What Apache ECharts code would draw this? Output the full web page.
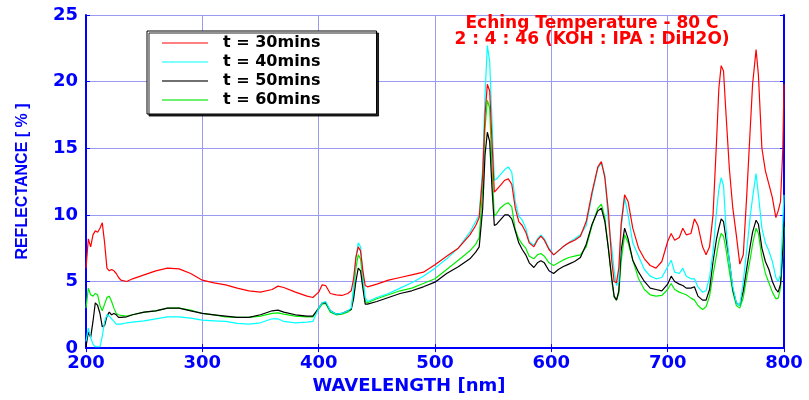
<!DOCTYPE html>
<html>
<head>
<meta charset="utf-8">
<script src="https://cdn.jsdelivr.net/npm/echarts@6/dist/echarts.min.js"></script>
<style>html,body{margin:0;padding:0;background:#fff}#c{width:809px;height:400px}</style>
</head>
<body>
<div id="c"></div>
<script>
// Wavelength grid (nm)
var wavelengths = [
  200,202,204,206,208,210,212,214,216,218,220,222,224,226,228,230,235,240,250,260,270,280,290,300,310,320,330,
  340,350,360,365,370,380,390,395,400,403,406,410,415,420,425,428,430,432,434,436,438,440,442,450,460,470,480,490,
  500,510,520,530,535,538,541,543,545,547,549,551,553,556,560,563,566,569,572,575,578,581,585,588,591,594,598,602,606,610,615,620,
  625,630,635,640,643,646,649,652,654,656,658,660,663,666,670,675,680,685,690,695,
  700,703,706,710,713,716,720,723,726,730,733,736,739,742,744,746,748,750,753,756,759,762,765,768,771,773,776,778,781,784,787,790,793,795,797,799,800
];
var seriesNames = ['t = 30mins', 't = 40mins', 't = 50mins', 't = 60mins'];
var t30 = [
  6.0,8.2,7.6,8.5,8.8,8.7,9.0,9.4,7.9,6.0,5.8,5.9,5.8,5.6,5.3,5.1,5.0,5.2,5.5,5.8,6.0,5.95,5.6,5.1,4.9,4.75,4.5,
  4.3,4.2,4.4,4.65,4.55,4.2,3.9,3.8,4.2,4.75,4.7,4.1,4.0,3.95,4.1,4.3,5.2,6.8,7.6,7.3,5.8,4.7,4.6,4.8,5.1,5.3,5.5,5.7,
  6.25,6.9,7.5,8.5,9.2,9.8,13.0,17.5,19.8,19.3,15.5,11.7,11.9,12.2,12.6,12.7,12.3,10.5,9.5,9.2,8.7,7.9,7.6,8.1,8.4,8.1,7.4,7.0,7.3,7.6,7.9,8.1,
  8.4,9.5,11.7,13.6,14.0,12.8,10.3,6.5,5.0,4.9,6.0,9.3,11.5,11.0,9.0,7.5,6.7,6.2,6.0,6.5,
  8.0,8.6,8.1,8.3,9.0,8.5,8.6,9.7,9.2,7.6,7.0,7.6,10.0,15.5,19.5,21.2,20.8,17.8,13.5,10.5,8.5,6.3,7.0,11.5,16.5,19.8,22.4,20.5,15.0,13.3,12.3,11.3,9.8,10.3,11.0,15.0,19.8
];
var t40 = [
  0.5,1.5,0.8,0.3,0.1,0.1,0.1,0.9,2.0,2.5,2.4,2.2,2.0,1.8,1.8,1.8,1.9,1.95,2.05,2.2,2.35,2.35,2.25,2.1,2.05,2.0,1.85,
  1.8,1.9,2.2,2.2,2.0,1.9,1.95,2.0,3.0,3.4,3.5,2.8,2.55,2.6,2.8,3.0,4.5,6.8,7.9,7.6,5.5,3.8,3.5,3.8,4.1,4.5,4.9,5.4,
  6.0,6.7,7.5,8.7,9.5,10.0,13.5,19.0,22.7,21.5,17.0,12.6,12.7,13.0,13.4,13.6,13.2,11.0,9.9,9.6,9.0,8.0,7.7,8.2,8.5,8.2,7.5,7.0,7.3,7.6,7.9,8.2,
  8.5,9.2,11.5,13.5,13.9,13.0,9.5,7.5,5.8,4.7,5.0,9.0,11.3,10.0,7.9,6.9,5.9,5.4,5.2,5.3,
  6.1,6.6,5.7,5.6,6.0,5.4,5.2,5.2,4.6,4.2,4.3,5.3,7.2,10.3,11.9,12.8,12.2,9.2,6.5,4.6,3.4,3.2,5.0,7.4,9.9,11.3,13.1,11.5,9.0,7.9,7.3,6.5,5.3,5.0,5.5,9.5,11.5
];
var t50 = [
  0.1,1.2,0.8,2.0,3.4,3.2,2.6,1.6,1.7,2.4,2.7,2.5,2.6,2.5,2.3,2.3,2.35,2.5,2.7,2.8,3.0,3.0,2.8,2.6,2.5,2.4,2.3,
  2.3,2.5,2.8,2.85,2.7,2.5,2.4,2.4,3.0,3.4,3.4,2.8,2.55,2.6,2.8,2.9,3.7,5.0,6.0,5.8,4.5,3.3,3.3,3.5,3.8,4.1,4.3,4.6,
  4.95,5.6,6.1,6.7,7.2,7.6,10.5,14.5,16.2,15.5,12.0,9.2,9.3,9.6,10.0,10.0,9.7,8.8,7.9,7.4,7.0,6.4,6.05,6.4,6.55,6.4,5.8,5.6,5.9,6.1,6.3,6.5,
  6.8,7.8,9.3,10.3,10.5,9.5,7.5,5.2,3.9,3.6,4.3,7.3,9.0,8.2,6.6,5.7,5.0,4.5,4.4,4.3,
  4.8,5.4,5.0,4.8,4.7,4.5,4.5,4.6,3.9,3.6,3.6,4.4,6.5,8.2,9.0,9.7,9.5,8.3,6.6,4.4,3.4,3.2,4.3,6.0,7.7,8.7,9.6,9.3,7.5,6.5,5.9,5.0,4.4,4.2,4.8,7.5,9.5
];
var t60 = [
  3.0,4.5,4.0,3.9,4.1,4.0,3.2,2.8,3.3,3.8,3.9,3.5,3.0,2.6,2.5,2.45,2.4,2.5,2.7,2.8,3.0,3.0,2.85,2.6,2.5,2.35,2.3,
  2.3,2.4,2.6,2.65,2.55,2.4,2.35,2.35,2.95,3.3,3.35,2.7,2.5,2.55,2.7,2.9,4.2,6.0,7.0,6.7,5.0,3.5,3.4,3.7,4.0,4.3,4.5,4.85,
  5.2,5.9,6.6,7.3,7.8,8.3,12.0,16.5,18.6,18.0,13.5,9.9,10.1,10.5,10.8,10.9,10.6,8.9,8.2,7.8,7.5,6.9,6.7,7.0,7.1,6.9,6.4,6.2,6.4,6.6,6.8,6.9,
  7.0,7.6,9.2,10.5,10.8,9.8,7.5,5.0,3.8,3.6,4.1,6.5,8.5,7.9,6.6,5.2,4.4,4.0,3.9,3.95,
  4.4,4.85,4.4,4.2,4.1,4.0,3.75,3.6,3.2,2.9,3.1,3.9,5.5,7.0,8.0,8.6,8.4,7.5,5.8,4.2,3.2,3.0,3.8,5.3,6.7,7.8,9.0,8.6,6.8,5.6,4.9,4.2,3.7,3.75,4.5,7.0,9.1
];
var seriesValues = [t30, t40, t50, t60];
var seriesColors = ['#ff0000', '#00ffff', '#000000', '#00ee00'];
var legendColors = ['#ff8080', '#80ffff', '#707070', '#70f070'];
var annotation = 'Eching Temperature - 80 C\n2 : 4 : 46 (KOH : IPA : DiH2O)';

function pairs(vals) { return wavelengths.map(function (w, i) { return [w, vals[i]]; }); }

var blue = '#0000ff';
var gridColor = '#9a9af2';
var tickFont = { color: blue, fontWeight: 'bold', fontSize: 18, fontFamily: 'DejaVu Sans' };

var chart = echarts.init(document.getElementById('c'), null, { renderer: 'canvas' });
chart.setOption({
  animation: false,
  backgroundColor: '#fff',
  grid: { left: 86, right: 25, top: 15, bottom: 42, show: false },
  xAxis: [{
    type: 'value', min: 200, max: 800, interval: 100,
    name: 'WAVELENGTH [nm]', nameLocation: 'middle', nameGap: 25,
    nameTextStyle: { color: blue, fontWeight: 'bold', fontSize: 18, fontFamily: 'DejaVu Sans', padding: [0, 52, 0, 0] },
    axisLine: { show: true, lineStyle: { color: blue, width: 2 } },
    axisTick: { show: true, inside: true, length: 4, lineStyle: { color: blue } },
    axisLabel: Object.assign({ margin: 6 }, tickFont),
    splitLine: { show: true, lineStyle: { color: gridColor, width: 1 } }
  }, {
    type: 'value', position: 'top', min: 200, max: 800, interval: 100,
    axisLine: { show: true, lineStyle: { color: blue, width: 2 } },
    axisTick: { show: true, inside: true, length: 4, lineStyle: { color: blue } },
    axisLabel: { show: false }, splitLine: { show: false }
  }],
  yAxis: [{
    type: 'value', min: 0, max: 25, interval: 5,
    name: 'REFLECTANCE [ % ]', nameLocation: 'middle', nameGap: 55,
    nameTextStyle: { color: blue, fontWeight: 'bold', fontSize: 16, fontFamily: 'Liberation Sans' },
    axisLine: { show: true, lineStyle: { color: blue, width: 2 } },
    axisTick: { show: true, inside: true, length: 4, lineStyle: { color: blue } },
    axisLabel: Object.assign({ margin: 8 }, tickFont),
    splitLine: { show: true, lineStyle: { color: gridColor, width: 1 } }
  }, {
    type: 'value', position: 'right', min: 0, max: 25, interval: 5,
    axisLine: { show: true, lineStyle: { color: blue, width: 2 } },
    axisTick: { show: true, inside: true, length: 4, lineStyle: { color: blue } },
    axisLabel: { show: false }, splitLine: { show: false }
  }],
  legend: {
    orient: 'vertical', left: 147, top: 31,
    data: seriesNames.map(function (n, i) {
      return { name: n, icon: 'rect', itemStyle: { color: legendColors[i] } };
    }),
    itemWidth: 46, itemHeight: 2, itemGap: 3,
    padding: [4, 56, 6, 15],
    backgroundColor: '#fff', borderColor: '#000', borderWidth: 1,
    shadowColor: 'rgba(0,0,0,0.85)', shadowOffsetX: 2, shadowOffsetY: 2, shadowBlur: 0,
    textStyle: { color: '#000', fontWeight: 'bold', fontSize: 16, fontFamily: 'DejaVu Sans', lineHeight: 16, padding: [0, 0, 0, 10] }
  },
  graphic: [{
    type: 'text', x: 592, y: 16, z: 100,
    style: { text: annotation, textAlign: 'center', textVerticalAlign: 'top', fill: '#ff0000',
      font: 'bold 17px "DejaVu Sans"', lineHeight: 16 }
  }],
  series: seriesNames.map(function (n, i) {
    return {
      name: n, type: 'line', data: pairs(seriesValues[i]),
      symbol: 'none', showSymbol: false, smooth: false,
      lineStyle: { color: seriesColors[i], width: 1.2 },
      itemStyle: { color: seriesColors[i] },
      z: 10 - i
    };
  })
});
</script>
</body>
</html>
